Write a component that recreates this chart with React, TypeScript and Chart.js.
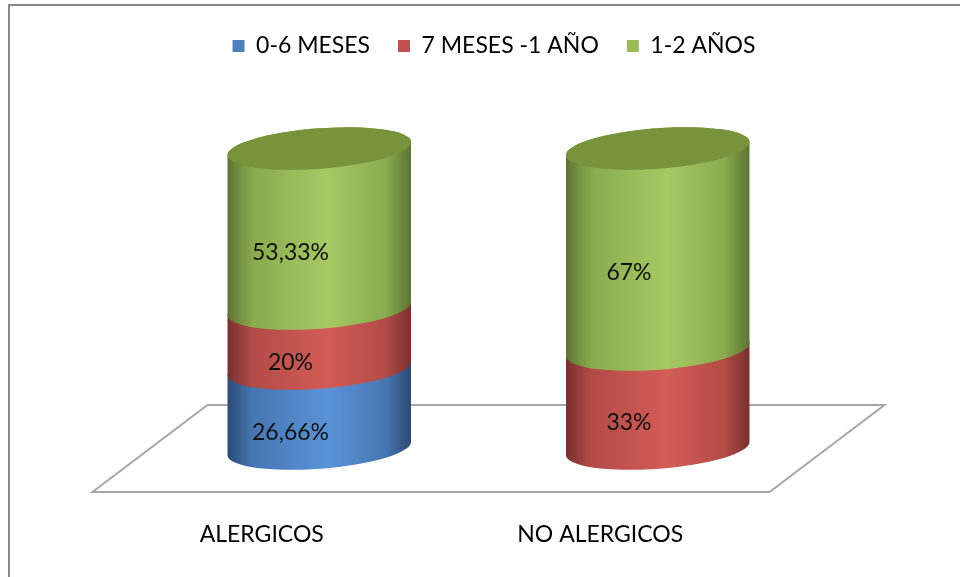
import React, { useEffect, useRef } from 'react';
import { Chart, registerables } from 'chart.js';

Chart.register(...registerables);

// ---- data ----
const categories = ['ALERGICOS', 'NO ALERGICOS'];
const seriesNames = ['0-6 MESES', '7 MESES -1 AÑO', '1-2 AÑOS'];
const series0to6 = [26.66, 0];
const series7to12 = [20, 33];
const series1to2 = [53.33, 67];
const seriesColors = ['#4F81BD', '#C0504D', '#9BBB59'];

// shading per series: [dark edge, base, light]
const seriesShades = [
  ['#2b4a73', '#4777b2', '#5a92d8'],
  ['#78302e', '#b34b47', '#d35c57'],
  ['#5c7432', '#8aab4e', '#a6c964'],
];
const topShades = ['#3d6699', '#a44440', '#77933c'];

const FONT = 'Lato';
const FONT_SIZE = 23;
const ROT = -0.075;
const DEPTH_X = 57.5;
const DEPTH_Y = 43.5;

function fmt(v: number) {
  return String(v).replace('.', ',') + '%';
}

const cylinderPlugin = {
  id: 'cylinders',
  beforeDraw(chart: any) {
    const ctx = chart.ctx;
    ctx.save();
    ctx.fillStyle = '#ffffff';
    ctx.fillRect(0, 0, chart.width, chart.height);
    ctx.fillStyle = '#878787';
    ctx.fillRect(8, 4, chart.width - 8, 2);
    ctx.fillRect(8, 4, 2, chart.height - 4);
    ctx.restore();
  },
  beforeDatasetsDraw(chart: any) {
    const ctx = chart.ctx;
    const ca = chart.chartArea;
    ctx.save();
    // floor
    ctx.beginPath();
    ctx.moveTo(ca.left + DEPTH_X, ca.bottom - DEPTH_Y);
    ctx.lineTo(ca.right + DEPTH_X, ca.bottom - DEPTH_Y);
    ctx.lineTo(ca.right - DEPTH_X, ca.bottom + DEPTH_Y);
    ctx.lineTo(ca.left - DEPTH_X, ca.bottom + DEPTH_Y);
    ctx.closePath();
    ctx.fillStyle = '#ffffff';
    ctx.fill();
    ctx.strokeStyle = '#a6a6a6';
    ctx.lineWidth = 2;
    ctx.stroke();

    for (let i = 0; i < chart.data.labels.length; i++) {
      let top: any = null;
      chart.data.datasets.forEach((ds: any, d: number) => {
        const v = ds.data[i];
        if (!v) return;
        const el = chart.getDatasetMeta(d).data[i];
        const { x, y, base, width } = el.getProps(['x', 'y', 'base', 'width'], true);
        const a = width / 2;
        const b = a * 0.22;
        const sh = seriesShades[d];
        const g = ctx.createLinearGradient(x - a, 0, x + a, 0);
        g.addColorStop(0, sh[0]);
        g.addColorStop(0.14, sh[1]);
        g.addColorStop(0.55, sh[2]);
        g.addColorStop(0.86, sh[1]);
        g.addColorStop(1, sh[0]);
        ctx.beginPath();
        ctx.ellipse(x, base, a, b, ROT, 0, Math.PI);
        ctx.ellipse(x, y, a, b, ROT, Math.PI, 2 * Math.PI);
        ctx.closePath();
        ctx.fillStyle = g;
        ctx.fill();
        top = { x, y, a, b, d };
      });
      if (top) {
        ctx.beginPath();
        ctx.ellipse(top.x, top.y, top.a, top.b, ROT, 0, 2 * Math.PI);
        ctx.fillStyle = topShades[top.d];
        ctx.fill();
      }
    }
    ctx.restore();
    return false;
  },
  afterDraw(chart: any) {
    const ctx = chart.ctx;
    ctx.save();
    ctx.font = `${FONT_SIZE}px ${FONT}`;
    ctx.fillStyle = '#111111';
    ctx.textAlign = 'center';
    ctx.textBaseline = 'middle';
    chart.data.datasets.forEach((ds: any, d: number) => {
      const meta = chart.getDatasetMeta(d);
      ds.data.forEach((v: number, i: number) => {
        if (!v) return;
        const el = meta.data[i];
        const { x, y, base } = el.getProps(['x', 'y', 'base'], true);
        ctx.fillText(fmt(v), x - DEPTH_X / 2, (y + base) / 2 + DEPTH_Y / 2 + 2);
      });
    });
    ctx.restore();
  },
};

export default function App() {
  const ref = useRef<HTMLCanvasElement>(null);
  useEffect(() => {
    if (!ref.current) return;
    const values = [series0to6, series7to12, series1to2];
    const chart = new Chart(ref.current, {
      type: 'bar',
      data: {
        labels: categories,
        datasets: seriesNames.map((name, k) => ({
          label: name,
          data: values[k],
          backgroundColor: seriesColors[k],
          borderWidth: 0,
          categoryPercentage: 1,
          barPercentage: 0.5436,
        })),
      },
      options: {
        responsive: false,
        animation: false,
        devicePixelRatio: 1,
        layout: { padding: { top: 6.5, left: 28, right: 0, bottom: 0 } },
        plugins: {
          tooltip: { enabled: false },
          legend: {
            position: 'top',
            labels: {
              boxWidth: 12,
              boxHeight: 12,
              padding: 28,
              color: '#000000',
              font: { family: FONT, size: FONT_SIZE },
            },
          },
        },
        scales: {
          x: {
            type: 'category',
            position: 'bottom',
            stacked: true,
            offset: true,
            grid: { display: false, drawTicks: false },
            border: { display: false },
            ticks: {
              padding: 72,
              labelOffset: -DEPTH_X,
              maxRotation: 0,
              color: '#000000',
              font: { family: FONT, size: FONT_SIZE },
            },
            afterFit: (s: any) => { s.height = 128.5; },
          },
          xTop: {
            type: 'category',
            position: 'top',
            grid: { display: false, drawTicks: false },
            border: { display: false },
            ticks: { display: false },
            afterFit: (s: any) => { s.height = 81; },
          },
          y: {
            type: 'linear',
            position: 'left',
            stacked: true,
            min: 0,
            max: 100,
            grid: { display: false, drawTicks: false },
            border: { display: false },
            ticks: { display: false },
            afterFit: (s: any) => { s.width = 122; },
          },
          y2: {
            type: 'linear',
            position: 'right',
            grid: { display: false, drawTicks: false },
            border: { display: false },
            ticks: { display: false },
            afterFit: (s: any) => { s.width = 133; },
          },
        },
      } as any,
      plugins: [cylinderPlugin],
    });
    return () => chart.destroy();
  }, []);
  return (
    <div style={{ position: 'absolute', left: 0, top: 0, width: 960, height: 577 }}>
      <canvas ref={ref} width={960} height={577} style={{ display: 'block' }} />
    </div>
  );
}
